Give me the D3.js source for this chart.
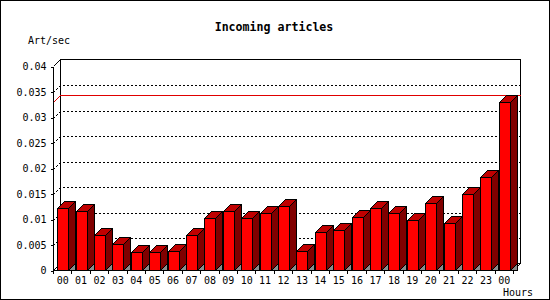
<!DOCTYPE html>
<html><head><meta charset="utf-8">
<script src="https://cdn.jsdelivr.net/npm/d3@7"></script>
<style>
html,body{margin:0;padding:0;background:#fff;}
svg{display:block;}
text{font-family:"DejaVu Sans Mono",monospace;}
</style></head>
<body>
<script>
const title = "Incoming articles";
const yAxisTitle = "Art/sec";
const xAxisTitle = "Hours";
const hours = ["00","01","02","03","04","05","06","07","08","09","10","11","12","13","14","15","16","17","18","19","20","21","22","23","00"];
const values = [0.01232,0.01173,0.00701,0.00524,0.00367,0.00367,0.00387,0.00701,0.01035,0.01173,0.01035,0.01134,0.01271,0.00387,0.00760,0.00800,0.01055,0.01232,0.01134,0.00996,0.01330,0.00937,0.01507,0.01841,0.03296];
const yTicks = [0,0.005,0.01,0.015,0.02,0.025,0.03,0.035,0.04];
const yTickLabels = ["0","0.005","0.01","0.015","0.02","0.025","0.03","0.035","0.04"];

const W = 550, H = 300;
const DX = 7, DY = 7;
const svg = d3.select("body").append("svg").attr("width", W).attr("height", H);

const x = d3.scaleBand().domain(d3.range(hours.length)).range([53.5, 513.5]).padding(0);
const y = d3.scaleLinear().domain([0, 0.04]).range([270.5, 66.5]);
const step = x.step();
const fx = i => Math.round(x(i) + step * 0.2) + 0.5;
const fw = 11;
const py = v => Math.round(y(v)) + 0.5;

// outer frame
svg.append("rect").attr("x",0.5).attr("y",0.5).attr("width",W-1).attr("height",H-1)
  .attr("fill","#fff").attr("stroke","#000");

const x0 = x.range()[0], x1 = x.range()[1];
const yb = y(0), yt = y(0.04);

// back panel
svg.append("rect").attr("x", x0+DX).attr("y", yt-DY).attr("width", x1-x0).attr("height", yb-yt)
  .attr("fill","#fff").attr("stroke","#000").attr("shape-rendering","crispEdges");

// gridlines (dotted) on left wall and back panel
const g = svg.append("g");
yTicks.filter(v => v > 0 && v < 0.04).forEach(v => {
  const yy = py(v);
  g.append("path").attr("d", `M${x0},${yy}L${x0+DX},${yy-DY}L${x1+DX},${yy-DY}`)
    .attr("fill","none").attr("stroke","#000").attr("stroke-dasharray","2,2").attr("shape-rendering","crispEdges");
});
// max line
const vmax = d3.max(values);
const ym = py(vmax);
svg.append("path").attr("d", `M${x0},${ym}L${x0+DX},${ym-DY}L${x1+DX},${ym-DY}`)
  .attr("fill","none").attr("stroke","#e00000").attr("shape-rendering","crispEdges");

// left wall edges & floor
svg.append("path").attr("d", `M${x0},${yt}L${x0+DX},${yt-DY}M${x0},${yb}L${x0+DX},${yb-DY}M${x1},${yb}L${x1+DX},${yb-DY}`)
  .attr("fill","none").attr("stroke","#000").attr("shape-rendering","crispEdges");

// bars
const bars = svg.append("g").selectAll("g").data(values).join("g");
bars.append("path").attr("d", (d,i) => { const a = fx(i)+fw; return `M${a},${yb}L${a+DX},${yb-DY}L${a+DX},${yb}Z`; })
  .attr("fill","#8c8c8c").attr("stroke","#000").attr("shape-rendering","crispEdges");
bars.append("path").attr("d", (d,i) => { const a = fx(i)+fw, t = py(d); return `M${a},${t}L${a+DX},${t-DY}L${a+DX},${yb-DY}L${a},${yb}Z`; })
  .attr("fill","#800000").attr("stroke","#000").attr("shape-rendering","crispEdges");
bars.append("path").attr("d", (d,i) => { const a = fx(i), t = py(d); return `M${a},${t}L${a+DX},${t-DY}L${a+fw+DX},${t-DY}L${a+fw},${t}Z`; })
  .attr("fill","#c00000").attr("stroke","#000").attr("shape-rendering","crispEdges");
bars.append("rect").attr("x", (d,i) => fx(i)).attr("y", d => py(d))
  .attr("width", fw).attr("height", d => yb - py(d))
  .attr("fill","#ff0000").attr("stroke","#000").attr("shape-rendering","crispEdges");

// front axis line & baseline
svg.append("path").attr("d", `M${x0},${yt}L${x0},${yb}L${x1},${yb}`)
  .attr("fill","none").attr("stroke","#000").attr("shape-rendering","crispEdges");

// Y axis
const yAxis = svg.append("g").attr("transform", `translate(${x0},0)`)
  .call(d3.axisLeft(y).tickValues(yTicks).tickFormat((d,i) => yTickLabels[i]).tickSize(3).tickPadding(4).tickSizeOuter(0));
yAxis.select(".domain").remove();
yAxis.selectAll("line").attr("shape-rendering","crispEdges");
yAxis.selectAll("text").attr("font-size","10px").attr("font-family","DejaVu Sans Mono").attr("fill","#000");

// X axis boundary ticks
svg.append("g").selectAll("line").data(d3.range(hours.length+1)).join("line")
  .attr("x1", i => i < hours.length ? x(i) : x1).attr("x2", i => i < hours.length ? x(i) : x1)
  .attr("y1", yb).attr("y2", yb+3).attr("stroke","#000").attr("shape-rendering","crispEdges");

// X axis labels
const xAxis = svg.append("g").attr("transform", `translate(0,${yb})`)
  .call(d3.axisBottom(x).tickFormat(i => hours[i]).tickSize(0).tickPadding(6));
xAxis.select(".domain").remove();
xAxis.selectAll("text").attr("font-size","10px").attr("font-family","DejaVu Sans Mono").attr("fill","#000");

// titles
svg.append("text").attr("x", 274).attr("y", 31).attr("text-anchor","middle")
  .attr("font-size","11.6px").attr("font-weight","bold").text(title);
svg.append("text").attr("x", 28).attr("y", 43.5).attr("font-size","10px").text(yAxisTitle);
svg.append("text").attr("x", 533).attr("y", 295.5).attr("text-anchor","end").attr("font-size","10px").text(xAxisTitle);
</script>
</body></html>
